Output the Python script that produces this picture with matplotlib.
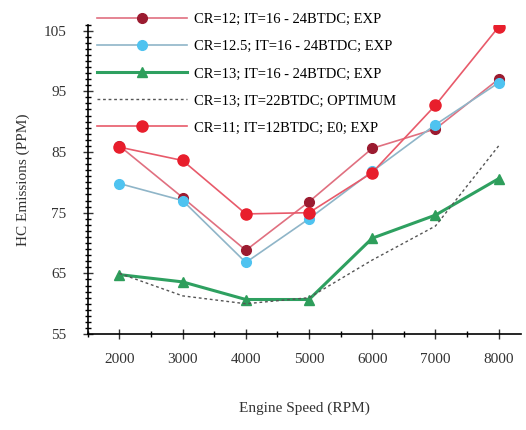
import matplotlib.pyplot as plt
from matplotlib.ticker import MultipleLocator

plt.rcParams["font.family"] = ["Liberation Serif", "DejaVu Serif"]

speed = [2000, 3000, 4000, 5000, 6000, 7000, 8000]

hc_cr12 = [86, 77.5, 68.8, 76.8, 85.6, 88.8, 97]
hc_cr125 = [79.8, 77, 66.8, 74, 81.8, 89.5, 96.4]
hc_cr13 = [64.8, 63.6, 60.7, 60.7, 70.8, 74.6, 80.6]
hc_opt = [65, 61.3, 60, 61, 67.2, 72.8, 86]
hc_cr11 = [85.8, 83.6, 74.8, 75, 81.6, 92.7, 105.6]

labels = [
    "CR=12; IT=16 - 24BTDC; EXP",
    "CR=12.5; IT=16 - 24BTDC; EXP",
    "CR=13; IT=16 - 24BTDC; EXP",
    "CR=13; IT=22BTDC; OPTIMUM",
    "CR=11; IT=12BTDC; E0; EXP",
]

fig = plt.figure(figsize=(5.26, 4.30), dpi=100)
ax = fig.add_axes([0.167, 0.223, 0.823, 0.72])

ax.plot(speed, hc_cr12, color="#e07080", linewidth=1.2, marker="o", markersize=7,
        markerfacecolor="#9b1b30", markeredgecolor="#9b1b30", label=labels[0])
ax.plot(speed, hc_cr125, color="#8fb5c8", linewidth=1.2, marker="o", markersize=7,
        markerfacecolor="#4fc3f0", markeredgecolor="#4fc3f0", label=labels[1])
ax.plot(speed, hc_cr13, color="#2ea060", linewidth=2.2, marker="^", markersize=7,
        markerfacecolor="#2e9e5b", markeredgecolor="#2e9e5b", label=labels[2])
ax.plot(speed, hc_opt, color="#555555", linewidth=1.0, linestyle=(0, (2, 2)), label=labels[3])
ax.plot(speed, hc_cr11, color="#e85a6a", linewidth=1.2, marker="o", markersize=8,
        markerfacecolor="#e81e2c", markeredgecolor="#e81e2c", label=labels[4])

ax.set_xlim(1500, 8350)
ax.set_ylim(55, 106)
ax.set_xticks(speed)
ax.set_yticks([55, 65, 75, 85, 95, 105])
ax.xaxis.set_minor_locator(MultipleLocator(500))
ax.yaxis.set_minor_locator(MultipleLocator(1))
ax.tick_params(which="major", direction="inout", length=7, width=1, labelsize=11, colors="#333333")
ax.tick_params(axis="y", which="major", pad=12)
ax.tick_params(axis="x", which="major", pad=10)
ax.tick_params(which="minor", direction="inout", length=4, width=1)

for side in ["top", "right"]:
    ax.spines[side].set_visible(False)
for side in ["left", "bottom"]:
    ax.spines[side].set_linewidth(1.2)

ax.set_xlabel("Engine Speed (RPM)", fontsize=11, color="#333333", labelpad=26)
ax.set_ylabel("HC Emissions (PPM)", fontsize=11, color="#333333", labelpad=10)

ax.legend(loc="upper left", bbox_to_anchor=(0.0, 1.065), frameon=False, fontsize=10.5,
          handlelength=6.2, handletextpad=0.5, labelspacing=0.95, borderaxespad=0.2)

fig.savefig("out.png", dpi=100)
